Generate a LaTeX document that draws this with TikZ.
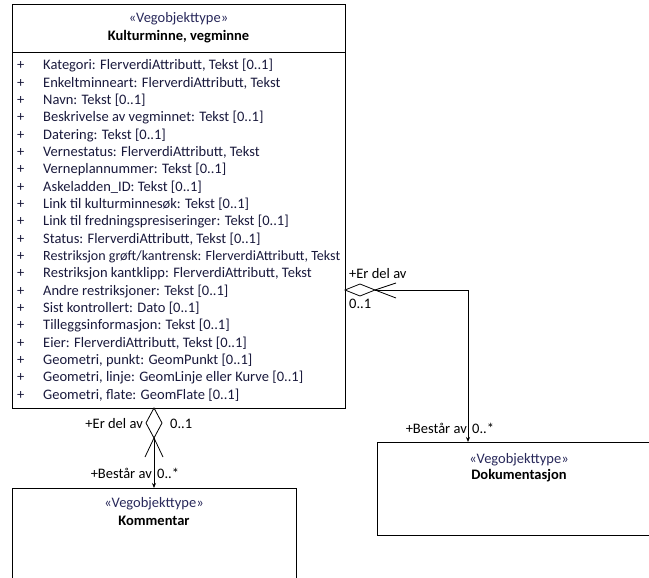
\documentclass[tikz,border=0pt]{standalone}
\usepackage{fontspec}
\setmainfont{Carlito}
\usetikzlibrary{arrows.meta}
\definecolor{stereo}{RGB}{40,40,90}
\definecolor{attr}{RGB}{25,25,60}
\begin{document}
\begin{tikzpicture}[x=1pt,y=-1pt,
  umlbox/.style={draw, line width=0.9pt, anchor=north west, inner sep=0pt},
  txt/.style={font=\fontsize{14.5}{17}\selectfont, inner sep=0pt},
  attrtxt/.style={txt, text=attr, anchor=west},
  lbl/.style={font=\fontsize{14.5}{17}\selectfont, inner sep=0pt, text=black},
  conn/.style={line width=0.8pt},
  endtip/.style={-{Stealth[length=5pt,width=4pt]}}
]
\clip (0,0) rectangle (649,578);
% boxes
\node[umlbox, minimum width=333pt, minimum height=404pt] (main) at (12,4) {};
\draw[line width=0.9pt] (12,52) coordinate (sepL) -- (345,52) coordinate (sepR);
\node[txt, text=stereo] (mst) at (178.5,19) {«Vegobjekttype»};
\node[txt, font=\fontsize{14.5}{17}\selectfont\bfseries] (mname) at (178.5,37) {Kulturminne, vegminne};

\node[umlbox, minimum width=284pt, minimum height=120pt] (komm) at (12,488) {};
\node[txt, text=stereo] (kst) at (154,504) {«Vegobjekttype»};
\node[txt, font=\fontsize{14.5}{17}\selectfont\bfseries] (kname) at (154,521) {Kommentar};

\node[umlbox, minimum width=300pt, minimum height=93pt] (dok) at (377,442) {};
\node[txt, text=stereo] (dst) at (519,460) {«Vegobjekttype»};
\node[txt, font=\fontsize{14.5}{17}\selectfont\bfseries] (dname) at (519,476) {Dokumentasjon};

% attributes
\foreach \t [count=\i from 0] in {
 {Kategori: FlerverdiAttributt, Tekst [0..1]},
 {Enkeltminneart: FlerverdiAttributt, Tekst},
 {Navn: Tekst [0..1]},
 {Beskrivelse av vegminnet: Tekst [0..1]},
 {Datering: Tekst [0..1]},
 {Vernestatus: FlerverdiAttributt, Tekst},
 {Verneplannummer: Tekst [0..1]},
 {Askeladden\_ID: Tekst [0..1]},
 {Link til kulturminnesøk: Tekst [0..1]},
 {Link til fredningspresiseringer: Tekst [0..1]},
 {Status: FlerverdiAttributt, Tekst [0..1]},
 {\resizebox{297pt}{!}{Restriksjon grøft/kantrensk: FlerverdiAttributt, Tekst}},
 {Restriksjon kantklipp: FlerverdiAttributt, Tekst},
 {Andre restriksjoner: Tekst [0..1]},
 {Sist kontrollert: Dato [0..1]},
 {Tilleggsinformasjon: Tekst [0..1]},
 {Eier: FlerverdiAttributt, Tekst [0..1]},
 {Geometri, punkt: GeomPunkt [0..1]},
 {Geometri, linje: GeomLinje eller Kurve [0..1]},
 {Geometri, flate: GeomFlate [0..1]}} {
  \node[attrtxt] (p\i) at (17,66+\i*17.32) {+};
  \node[attrtxt] (a\i) at (43,66+\i*17.32) {\t};
}

% connector main -> Kommentar
\coordinate (c1top) at (154,408);
\coordinate (c1mid) at (154,438);
\draw[conn, fill=white] (c1top) -- (162,423) -- (c1mid) -- (146,423) -- cycle;
\draw[conn] (145,457) -- (c1mid) -- (163,457);
\draw[conn, endtip] (c1mid) -- (komm.north -| c1mid);
\node[lbl, anchor=east] (l1a) at (143,424) {+Er del av};
\node[lbl, anchor=west] (l1b) at (170,424) {0..1};
\node[lbl, anchor=east] (l1c) at (152,473) {+Består av};
\node[lbl, anchor=west] (l1d) at (157,473) {0..*};

% connector main -> Dokumentasjon
\coordinate (c2left) at (345,290);
\coordinate (c2mid) at (375,290);
\coordinate (c2bend) at (468,290);
\draw[conn, fill=white] (c2left) -- (360,284) -- (c2mid) -- (360,296) -- cycle;
\draw[conn] (396,283) -- (c2mid) -- (396,298);
\draw[conn, endtip] (c2mid) -- (c2bend) -- (dok.north -| c2bend);
\node[lbl, anchor=west] (l2a) at (349,274) {+Er del av};
\node[lbl, anchor=west] (l2b) at (349,304) {0..1};
\node[lbl, anchor=east] (l2c) at (467,428) {+Består av};
\node[lbl, anchor=west] (l2d) at (472,428) {0..*};
\end{tikzpicture}
\end{document}
